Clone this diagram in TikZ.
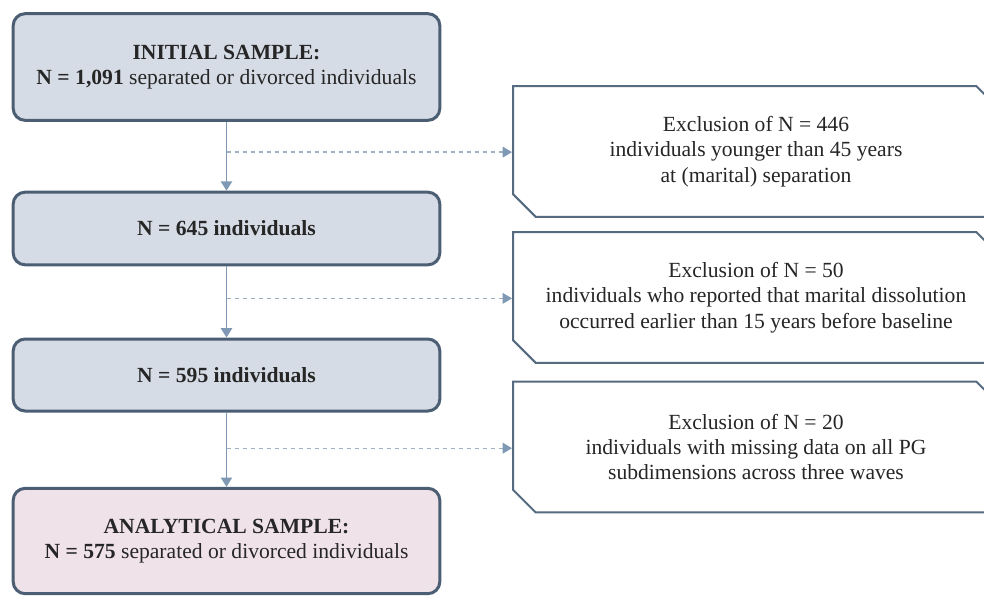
\documentclass[tikz,border=0pt]{standalone}
\usepackage{fontspec}
\setmainfont{Liberation Serif}
\usetikzlibrary{shapes.misc,arrows.meta,calc}

\definecolor{samplefill}{HTML}{D6DCE5}
\definecolor{sampleline}{HTML}{4B5E74}
\definecolor{finalfill}{HTML}{EFE2E9}
\definecolor{flowcol}{HTML}{7F99B4}
\definecolor{dashcol}{HTML}{9DB0C6}
\definecolor{exclline}{HTML}{566A80}

\tikzset{
  samplebox/.style={draw=sampleline, line width=2.25pt, fill=samplefill,
    rounded corners=9pt, minimum width=320pt, align=center, text=black!85,
    font=\fontsize{16.2}{19}\selectfont},
  exclbox/.style={draw=exclline, line width=1.5pt, fill=white, anchor=west,
    chamfered rectangle, chamfered rectangle corners={north east,south west},
    chamfered rectangle sep=8.5pt, minimum width=364.5pt, minimum height=98pt,
    align=center, text=black!85, font=\fontsize{16.2}{19}\selectfont, inner sep=0pt},
  flow/.style={draw=flowcol, line width=1.1pt, -{Triangle[length=7pt,width=8.5pt]}},
  dashflow/.style={draw=dashcol, line width=1pt, dash pattern=on 3.5pt off 2.5pt,
    -{Triangle[length=7pt,width=8pt,color=flowcol]}}
}

\begin{document}
\begin{tikzpicture}[x=0.75pt,y=-0.75pt]
    \useasboundingbox (0,0) rectangle (984,596);
    \clip (0,0) rectangle (984,596);
    % sample boxes
    \node[samplebox, minimum height=80pt] (init) at (226.5,67)
        {\textbf{INITIAL SAMPLE:}\\\textbf{N = 1,091} separated or divorced individuals};
    \node[samplebox, minimum height=54.5pt] (s645) at (226.5,228.5) {\textbf{N = 645 individuals}};
    \node[samplebox, minimum height=54pt] (s595) at (226.5,375) {\textbf{N = 595 individuals}};
    \node[samplebox, fill=finalfill, minimum height=79pt] (final) at (226.5,541)
        {\textbf{ANALYTICAL SAMPLE:}\\\textbf{N = 575} separated or divorced individuals};
    % exclusion boxes
    \node[exclbox] (ex446) at (512,151.5)
        {Exclusion of N = 446\\individuals younger than 45 years\\at (marital) separation};
    \node[exclbox] (ex50) at (512,297.5)
        {Exclusion of N = 50\\individuals who reported that marital dissolution\\occurred earlier than 15 years before baseline};
    \node[exclbox] (ex20) at (512,447)
        {Exclusion of N = 20\\individuals with missing data on all PG\\subdimensions across three waves};
    % main flow
    \draw[flow] (init) -- (s645);\draw[flow] (s645) -- (s595);
    \draw[flow] (s595) -- (final);
    % side arrows
    \coordinate (d1) at ($(init.south)!0.44!(s645.north)$);
    \coordinate (d2) at ($(s645.south)!0.45!(s595.north)$);
    \coordinate (d3) at ($(s595.south)!0.48!(final.north)$);
    \draw[dashflow] (d1) -- (d1 -| ex446.west);
    \draw[dashflow] (d2) -- (d2 -| ex50.west);
    \draw[dashflow] (d3) -- (d3 -| ex20.west);
\end{tikzpicture}
\end{document}
